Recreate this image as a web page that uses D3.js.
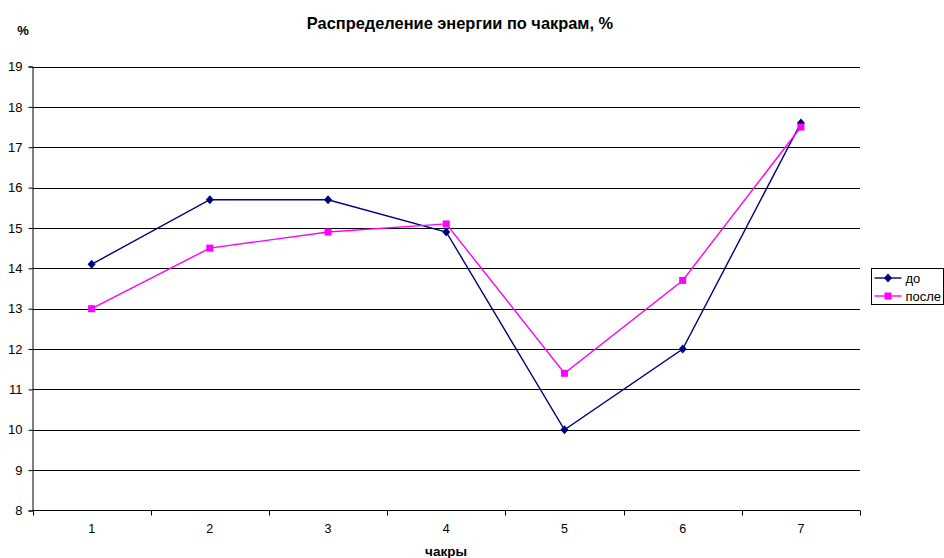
<!DOCTYPE html>
<html>
<head>
<meta charset="utf-8">
<script src="https://cdn.jsdelivr.net/npm/d3@7"></script>
<style>
  body { margin: 0; background: #fff; }
  svg { display: block; font-family: "Liberation Sans", Arial, sans-serif; }
</style>
</head>
<body>
<svg id="chart" width="944" height="558"></svg>
<script>
// Chakra energy distribution, before and after
const categories = ["1", "2", "3", "4", "5", "6", "7"];
const seriesBefore = [14.1, 15.7, 15.7, 14.9, 10.0, 12.0, 17.6];
const seriesAfter = [13.0, 14.5, 14.9, 15.1, 11.4, 13.7, 17.5];
const yTicks = [8, 9, 10, 11, 12, 13, 14, 15, 16, 17, 18, 19];
const seriesNames = ["до", "после"];

const svg = d3.select("#chart");
const plot = { left: 32.5, right: 860, top: 66.5, bottom: 510.5 };

const x = d3.scaleBand().domain(categories).range([plot.left, plot.right]);
const y = d3.scaleLinear().domain([8, 19]).range([plot.bottom, plot.top]);

// horizontal gridlines
svg.append("g").selectAll("line").data(yTicks.filter(d => d > 8)).join("line")
  .attr("x1", plot.left).attr("x2", plot.right)
  .attr("y1", d => Math.round(y(d)) + 0.5).attr("y2", d => Math.round(y(d)) + 0.5)
  .attr("stroke", "#000").attr("stroke-width", 1);

// y axis
const yAxis = svg.append("g").attr("transform", `translate(${plot.left},0)`)
  .call(d3.axisLeft(y).tickValues(yTicks).tickSize(4).tickPadding(6).tickFormat(d3.format("d")));
yAxis.selectAll("text").attr("font-size", 13).attr("fill", "#000")
  .attr("font-family", "Liberation Sans, Arial, sans-serif");
yAxis.selectAll("line, path").attr("stroke", "#000");

// x axis with boundary ticks between categories
const xAxisG = svg.append("g").attr("transform", `translate(0,${plot.bottom})`);
xAxisG.append("line").attr("x1", plot.left).attr("x2", plot.right)
  .attr("stroke", "#000");
const bounds = categories.map(c => x(c)).concat([x.range()[1]]);
xAxisG.selectAll("line.tick").data(bounds).join("line").attr("class", "tick")
  .attr("x1", d => Math.round(d) + 0.5).attr("x2", d => Math.round(d) + 0.5)
  .attr("y1", 0).attr("y2", 5).attr("stroke", "#000");
xAxisG.selectAll("text").data(categories).join("text")
  .attr("x", d => x(d) + x.bandwidth() / 2).attr("y", 22)
  .attr("text-anchor", "middle").attr("font-size", 12.5).text(d => d);

// series lines and markers
const cx = c => x(c) + x.bandwidth() / 2;
const line = d3.line().x((d, i) => cx(categories[i])).y(d => y(d));
const series = [
  { name: seriesNames[0], values: seriesBefore, color: "#000080", marker: "diamond" },
  { name: seriesNames[1], values: seriesAfter, color: "#FF00FF", marker: "square" }
];
function drawMarker(g, m, color) {
  if (m === "square") {
    g.append("rect").attr("x", -3.5).attr("y", -3.5).attr("width", 7).attr("height", 7).attr("fill", color);
  } else {
    g.append("path").attr("d", "M0,-4.5L4,0L0,4.5L-4,0Z").attr("fill", color);
  }
}
series.forEach(s => {
  svg.append("path").datum(s.values).attr("d", line)
    .attr("fill", "none").attr("stroke", s.color).attr("stroke-width", 1.4);
  s.values.forEach((v, i) => {
    const g = svg.append("g").attr("transform", `translate(${cx(categories[i])},${y(v)})`);
    drawMarker(g, s.marker, s.color);
  });
});

// title and axis labels
svg.append("text").attr("x", 460).attr("y", 28.5).attr("text-anchor", "middle")
  .attr("font-size", 16.4).attr("font-weight", "bold").text("Распределение энергии по чакрам, %");
svg.append("text").attr("x", 23).attr("y", 35).attr("text-anchor", "middle")
  .attr("font-size", 13).attr("font-weight", "bold").text("%");
svg.append("text").attr("x", 446).attr("y", 556).attr("text-anchor", "middle")
  .attr("font-size", 13.5).attr("font-weight", "bold").text("чакры");

// legend
const lg = svg.append("g").attr("transform", "translate(871.5,268.5)");
lg.append("rect").attr("width", 72).attr("height", 36).attr("fill", "#fff")
  .attr("stroke", "#000").attr("stroke-width", 1);
series.forEach((s, i) => {
  const yy = 9.5 + i * 18;
  lg.append("line").attr("x1", 3).attr("x2", 30).attr("y1", yy).attr("y2", yy)
    .attr("stroke", s.color).attr("stroke-width", 1.4);
  const g = lg.append("g").attr("transform", `translate(16.5,${yy})`);
  drawMarker(g, s.marker, s.color);
  lg.append("text").attr("x", 34).attr("y", yy + 4.5).attr("font-size", 13).text(s.name);
});
</script>
</body>
</html>
